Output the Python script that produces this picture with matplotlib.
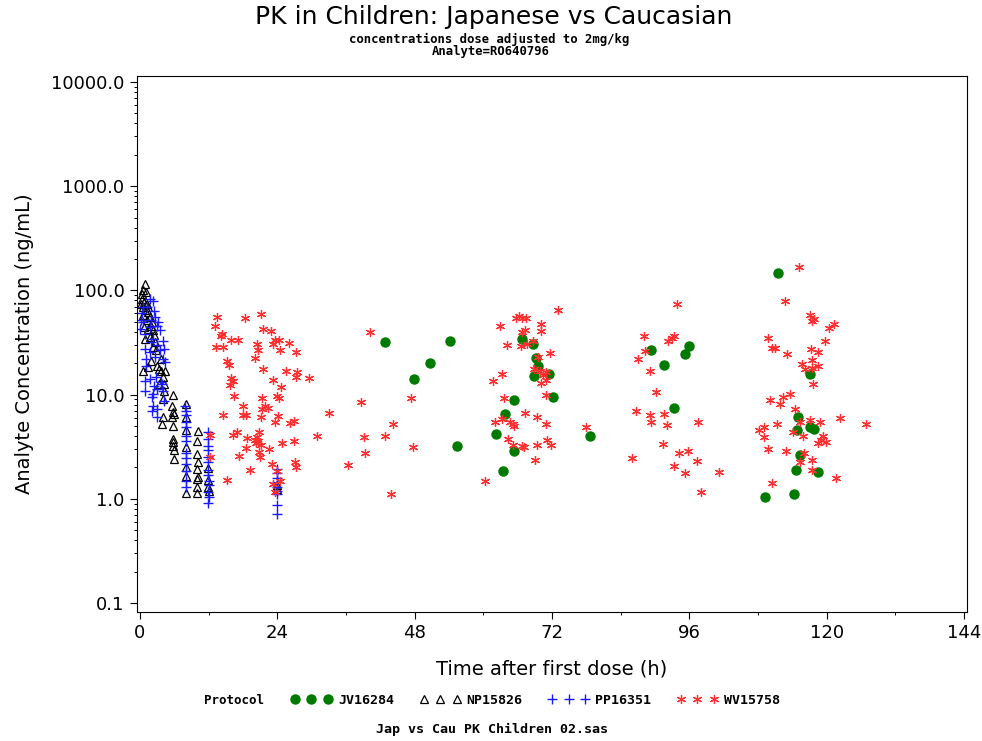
import numpy as np
import matplotlib
matplotlib.use("Agg")
import matplotlib.pyplot as plt
from matplotlib.ticker import FixedLocator, FixedFormatter, NullFormatter

# JV16284 (green circles)
jv_t = [42.9, 54.2, 50.7, 47.9, 55.4, 66.7, 68.7, 69.2, 69.6, 68.9, 71.5, 72.2, 65.4, 63.8,
        62.3, 65.3, 63.5, 78.7, 89.3, 95.9, 95.3, 91.6, 93.4, 111.5, 117.0, 114.9, 114.8,
        117.0, 117.7, 115.3, 114.6, 118.4, 109.2, 114.2]
jv_c = [32.3, 33.0, 19.9, 14.2, 3.2, 33.8, 30.3, 22.3, 18.6, 15.0, 15.9, 9.4, 8.9, 6.5,
        4.2, 2.85, 1.83, 3.97, 26.9, 29.4, 24.6, 19.4, 7.5, 148, 15.6, 6.1, 4.58,
        4.85, 4.68, 2.63, 1.89, 1.79, 1.05, 1.12]

# NP15826 (black open triangles)
np_t = [0.87, 0.47, 1.05, 0.29, 0.70, 1.17, 0.47, 0.87, 1.46, 0.58, 1.75, 1.17, 2.04, 0.70,
        1.46, 2.21, 0.87, 1.75, 2.44, 2.33, 2.79, 1.86, 0.58, 1.46, 2.91, 3.78, 4.07, 3.37,
        4.30, 4.07, 0.12, 1.46, 1.86, 2.62, 3.61, 4.36, 0.29, 4.19, 3.37,
        5.81, 5.70, 5.81, 5.93, 5.70, 4.07, 3.95, 5.81, 5.81, 5.81, 5.81, 5.93, 5.93,
        8.02, 8.02, 8.02, 8.02, 8.02, 8.02, 8.02,
        10.11, 9.99, 9.99, 10.11, 9.99, 10.11, 9.99, 9.99, 9.99,
        11.97, 11.97, 11.97, 12.09, 24.0, 24.0]
np_c = [114, 99.8, 96.3, 83.2, 77.3, 74.5, 69.2, 64.3, 62.1, 57.4, 55.4, 51.4, 49.6, 44.4,
        42.8, 41.2, 34.3, 35.6, 36.9, 28.5, 26.5, 21.2, 17.0, 18.3, 19.0, 17.0, 14.7, 12.7,
        10.9, 9.1, 74.5, 69.2, 46.0, 31.8, 22.0, 17.0, 91.4, 12.7, 17.6,
        9.8, 7.85, 6.8, 6.5, 6.1, 6.1, 5.2, 5.0, 3.75, 3.5, 3.24, 2.94, 2.41,
        8.1, 6.1, 4.6, 3.12, 2.03, 1.67, 1.13,
        4.5, 3.6, 2.69, 2.24, 1.93, 1.63, 1.55, 1.29, 1.13,
        1.97, 1.51, 1.31, 1.19, 1.25, 1.35]

# PP16351 (blue plus)
pp_t = [1.75, 2.33, 1.28, 2.44, 3.20, 1.75, 2.91, 3.49, 0.87, 2.33, 4.07, 1.86, 2.91, 3.49,
        0.87, 1.75, 4.19, 1.05, 2.62, 4.07, 4.36, 0.87, 1.75, 2.79, 3.78, 0.87, 2.44, 2.91,
        2.04, 4.07, 4.19, 1.86, 2.62, 0.58, 1.05, 0.0, 0.3, 0.5, 0.2,
        2.33, 3.95, 2.04, 2.91, 2.21, 2.91,
        7.85, 8.02, 8.02, 8.02, 8.14, 8.02, 8.02, 8.02, 8.14, 8.02, 8.02, 8.14, 8.14,
        11.97, 11.97, 11.97, 11.97, 11.97, 11.97, 11.97, 11.97, 12.09, 12.09, 11.97, 12.09, 11.97,
        23.9, 23.9, 24.0, 23.9, 24.0, 23.9, 24.0, 24.0, 24.0]
pp_c = [83.2, 78.9, 69.2, 63.3, 49.6, 44.4, 46.0, 41.2, 38.3, 34.3, 33.0, 31.8, 29.6, 26.5,
        27.5, 25.5, 27.5, 22.0, 22.9, 22.0, 20.5, 13.6, 14.1, 14.7, 13.1, 10.9, 12.2, 11.3,
        9.5, 10.9, 8.75, 51.4, 55.4, 49.6, 19.0, 42.8, 60.0, 70.0, 52.0,
        10.2, 12.7, 7.0, 6.1, 7.8, 7.3,
        7.7, 7.0, 6.3, 5.4, 4.85, 4.04, 3.6, 2.73, 2.46, 2.16, 1.86, 1.49, 1.29,
        4.35, 3.75, 3.24, 2.94, 2.54, 2.24, 1.89, 1.70, 1.49, 1.36, 1.15, 1.03, 0.92,
        1.95, 1.75, 1.6, 1.45, 1.3, 1.2, 1.1, 0.88, 0.71]

# WV15758 (red stars), grouped by day
wv_t = [13.5, 18.4, 21.2, 13.1, 14.3, 14.1, 15.9, 17.2, 13.3, 14.5, 21.5, 22.9, 20.5, 20.6,
        23.6, 24.3, 23.3, 26.0, 24.5, 27.3, 20.2, 15.3, 15.5, 21.5, 25.6, 27.4, 27.2, 29.5,
        23.3, 16.0, 16.3, 15.7, 24.6, 16.4, 21.4, 23.9, 24.3, 18.1, 21.9, 22.3, 21.3, 14.6,
        18.0, 18.6, 21.2, 24.2, 23.6, 26.9, 26.3, 33.0, 16.9, 16.3, 20.9, 20.5, 18.7, 20.3,
        20.7, 22.6, 18.5, 24.9, 27.0, 31.0, 17.4, 20.8, 21.0, 23.1, 27.1, 27.2, 19.3, 15.2,
        23.9, 23.3, 24.5, 23.6, 12.2, 12.2, 20.1, 21.2,
        40.2, 38.7, 47.4, 44.2, 39.2, 42.9, 47.8, 39.3, 36.3, 60.3, 43.9,
        73.0, 66.2, 66.8, 65.7, 67.4, 62.9, 70.0, 67.3, 66.8, 70.0, 64.1, 66.5, 67.7, 68.6,
        71.6, 69.6, 68.9, 69.9, 71.0, 70.4, 63.2, 61.7, 70.9, 70.0, 71.0, 63.6, 67.2, 69.3,
        62.1, 63.3, 64.6, 65.1, 65.4, 70.9, 78.0, 64.3, 65.1, 66.8, 67.1, 69.3, 71.2, 71.8, 69.0,
        93.8, 88.1, 92.2, 93.0, 93.3, 88.3, 87.1, 89.1, 90.2, 86.7, 89.2, 89.3, 91.6, 92.1,
        97.5, 91.4, 94.1, 95.8, 97.3, 86.0, 93.3, 95.2, 101.2, 98.0,
        115.1, 112.7, 117.1, 117.8, 117.5, 120.4, 121.3, 119.7, 109.7, 110.4, 110.9, 113.1,
        117.3, 118.4, 117.4, 115.6, 118.5, 116.2, 117.5, 117.6, 110.1, 112.4, 113.5, 111.8,
        114.5, 115.4, 117.0, 118.8, 122.3, 126.8, 111.3, 108.1, 109.1, 109.1, 114.1, 115.8,
        119.4, 119.0, 119.9, 118.5, 109.8, 112.9, 116.1, 115.3, 117.5, 117.5, 121.6, 110.5]
wv_c = [55.5, 54.6, 59.7, 45.1, 38.3, 36.1, 33.1, 33.5, 28.5, 28.5, 42.8, 40.6, 30.7, 26.9,
        33.1, 33.5, 30.7, 31.6, 26.5, 25.4, 22.2, 21.2, 19.4, 17.5, 16.8, 16.5, 14.7, 14.5,
        13.8, 14.5, 13.4, 12.3, 11.9, 9.6, 9.2, 9.6, 9.3, 7.7, 7.8, 7.4, 7.2, 6.3,
        6.3, 6.3, 6.1, 6.2, 5.5, 5.6, 5.3, 6.6, 4.4, 4.1, 4.4, 3.9, 3.8, 3.45,
        3.6, 3.0, 3.1, 3.4, 3.6, 4.0, 2.6, 2.8, 2.5, 2.15, 2.25, 2.0, 1.9, 1.5,
        1.86, 1.38, 1.49, 1.16, 4.1, 2.5, 3.7, 3.3,
        40.1, 8.4, 9.3, 5.2, 3.95, 4.0, 3.16, 2.77, 2.1, 1.49, 1.12,
        65.2, 56.2, 54.2, 54.2, 54.2, 45.7, 47.8, 41.9, 39.7, 40.6, 30.0, 29.2, 30.7, 32.6,
        24.8, 22.8, 17.7, 17.0, 16.4, 15.5, 15.8, 13.6, 13.8, 12.9, 9.9, 9.3, 6.7, 6.1,
        5.5, 5.8, 5.5, 5.2, 5.0, 5.2, 4.9, 3.75, 3.26, 3.24, 3.16, 3.3, 3.7, 3.3, 2.36,
        73.3, 36.1, 32.6, 35.1, 36.1, 26.1, 22.0, 16.9, 10.7, 7.0, 6.3, 5.5, 6.5, 5.1,
        5.5, 3.36, 2.73, 2.87, 2.28, 2.48, 2.06, 1.75, 1.79, 1.17,
        168, 78.5, 57.5, 53.5, 50.8, 43.5, 47.1, 32.6, 35.1, 28.1, 27.7, 24.6,
        27.3, 25.9, 21.7, 19.7, 18.7, 17.5, 18.1, 12.5, 8.8, 9.4, 10.1, 8.1,
        7.2, 5.5, 5.7, 5.5, 6.0, 5.2, 5.2, 4.6, 4.9, 3.95, 4.35, 4.0,
        3.98, 3.67, 3.53, 3.4, 3.03, 2.85, 2.77, 2.25, 2.36, 1.89, 1.57, 1.41]

y_ticks = [0.1, 1, 10, 100, 1000, 10000]
y_labels = ["0.1", "1.0", "10.0", "100.0", "1000.0", "10000.0"]
x_ticks = [0, 24, 48, 72, 96, 120, 144]

mono = "DejaVu Sans Mono"
sans = "DejaVu Sans"

fig = plt.figure(figsize=(9.82, 7.41), dpi=100)
ax = fig.add_axes([137 / 982, 1 - 612 / 741, 830 / 982, 536 / 741])

l1, = ax.plot(jv_t, jv_c, linestyle="none", marker="o", markersize=6.5,
              color="#007a00", markeredgecolor="#007a00")
l2, = ax.plot(np_t, np_c, linestyle="none", marker="^", markersize=6,
              markerfacecolor="none", markeredgecolor="black", markeredgewidth=0.9)
l3, = ax.plot(pp_t, pp_c, linestyle="none", marker="+", markersize=6.5,
              color="#1a1aff", markeredgewidth=1.0)
l4, = ax.plot(wv_t, wv_c, linestyle="none", marker=(6, 2, 0), markersize=6.5,
              color="#ff3030", markeredgewidth=0.9)

ax.set_yscale("log")
ax.set_ylim(0.082, 11400)
ax.set_xlim(-0.5, 144.5)
ax.yaxis.set_major_locator(FixedLocator(y_ticks))
ax.yaxis.set_major_formatter(FixedFormatter(y_labels))
ax.yaxis.set_minor_locator(FixedLocator([m * 10.0 ** e for e in range(-1, 4) for m in range(2, 10)]))
ax.yaxis.set_minor_formatter(NullFormatter())
ax.set_xticks(x_ticks)
ax.set_xticks([12, 36, 60, 84, 108, 132], minor=True)

ax.tick_params(which="major", direction="out", length=5, width=0.8, labelsize=13, pad=4)
ax.tick_params(which="minor", direction="out", length=2.5, width=0.7)
for lab in ax.get_xticklabels() + ax.get_yticklabels():
    lab.set_family(sans)
for s in ax.spines.values():
    s.set_linewidth(0.8)

ax.set_xlabel("Time after first dose (h)", fontsize=14, family=sans, labelpad=12)
ax.set_ylabel("Analyte Concentration (ng/mL)", fontsize=14, family=sans, labelpad=12)

fig.text(494 / 982, 1 - 17 / 741, "PK in Children: Japanese vs Caucasian",
         ha="center", va="center", fontsize=18, family=sans)
fig.text(489 / 982, 1 - 39 / 741, "concentrations dose adjusted to 2mg/kg",
         ha="center", va="center", fontsize=8.8, family=mono, fontweight="bold")
fig.text(491 / 982, 1 - 51 / 741, "Analyte=RO640796",
         ha="center", va="center", fontsize=8.8, family=mono, fontweight="bold")

fig.text(204 / 982, 1 - 700 / 741, "Protocol", ha="left", va="center",
         fontsize=9, family=mono, fontweight="bold")
fig.legend([l1, l2, l3, l4], ["JV16284", "NP15826", "PP16351", "WV15758"],
           loc="center left", bbox_to_anchor=(291 / 982, 1 - 700 / 741),
           ncol=4, numpoints=3, frameon=False, borderpad=0, borderaxespad=0,
           handlelength=3.1, handletextpad=0.45, columnspacing=1.95,
           prop={"family": mono, "weight": "bold", "size": 9.5})

fig.text(492 / 982, 1 - 729 / 741, "Jap vs Cau PK Children 02.sas", ha="center",
         va="center", fontsize=9.6, family=mono, fontweight="bold")

fig.savefig("out.png", dpi=100)
